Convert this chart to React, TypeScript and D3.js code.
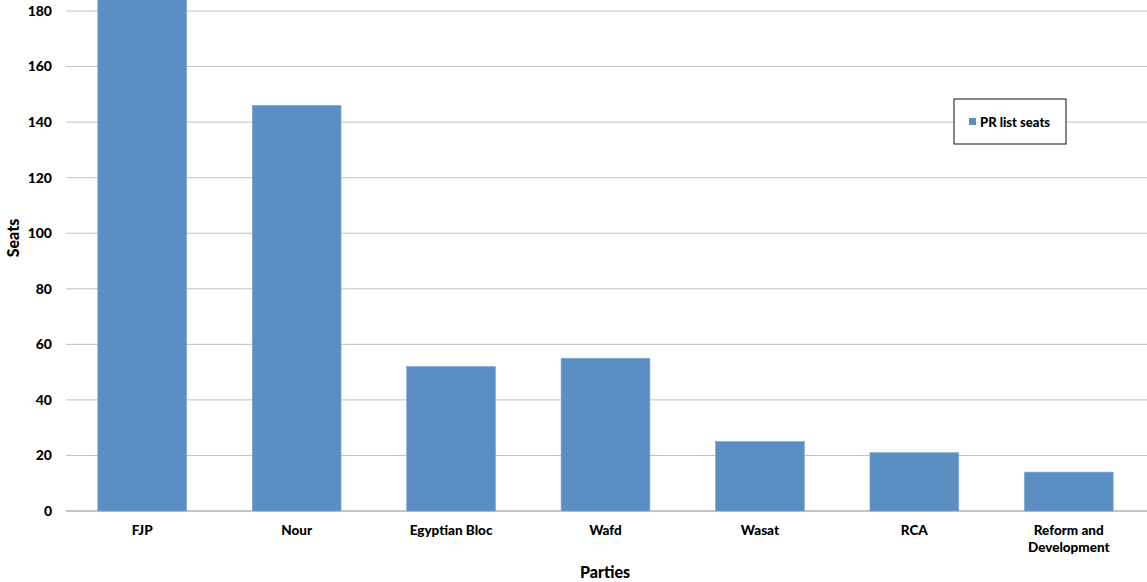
import React from "react";
import * as d3 from "d3";

const categories = ["FJP", "Nour", "Egyptian Bloc", "Wafd", "Wasat", "RCA", "Reform and Development"];
const seats = [213, 146, 52, 55, 25, 21, 14];
const yTicks = [0, 20, 40, 60, 80, 100, 120, 140, 160, 180];
const seriesName = "PR list seats";

const W = 1147, H = 582;
const FONT = "Lato, 'Open Sans', sans-serif";
const BAR = "#5b8fc4";

export default function App() {
  const x = d3.scaleBand<string>().domain(categories).range([65, 1146]).paddingInner(0.425).paddingOuter(0.2125);
  const y = d3.scaleLinear().domain([0, 180]).range([511, 11]);
  const labelLines = (c: string) => (c === "Reform and Development" ? ["Reform and", "Development"] : [c]);
  return (
    <svg width={W} height={H} style={{ position: "absolute", left: 0, top: 0, background: "#fff" }}>
      {yTicks.map((t) => (
        <g key={t}>
          <line x1={66} x2={W} y1={y(t)} y2={y(t)} stroke={t === 0 ? "#b0b0b0" : "#c0c0c0"} strokeWidth={t === 0 ? 1.5 : 1} />
          <text x={52} y={y(t)} dy="0.35em" textAnchor="end" fontFamily={FONT} fontWeight="900" fontSize={14} fill="#000">{t}</text>
        </g>
      ))}
      {categories.map((c, i) => (
        <rect key={c} x={x(c)!} width={x.bandwidth()} y={y(seats[i])} height={y(0) - y(seats[i])} fill={BAR} stroke="#7aa6d3" strokeWidth={0.6} />
      ))}
      {categories.map((c) => (
        <text key={c} x={x(c)! + x.bandwidth() / 2} y={535} textAnchor="middle" fontFamily={FONT} fontWeight="900" fontSize={13.5} fill="#000">
          {labelLines(c).map((l, j) => (
            <tspan key={j} x={x(c)! + x.bandwidth() / 2} dy={j === 0 ? 0 : 17}>{l}</tspan>
          ))}
        </text>
      ))}
      <text transform={`translate(19,238) rotate(-90)`} textAnchor="middle" fontFamily={FONT} fontWeight="900" fontSize={16} fill="#000">Seats</text>
      <text x={605} y={578} textAnchor="middle" fontFamily={FONT} fontWeight="900" fontSize={16} fill="#000">Parties</text>
      <g>
        <rect x={954} y={99} width={112} height={45} fill="#fff" stroke="#111" strokeWidth={1} />
        <rect x={969} y={118} width={7} height={7} fill={BAR} />
        <text x={980} y={122} dy="0.35em" fontFamily={FONT} fontWeight="900" fontSize={13} fill="#000">{seriesName}</text>
      </g>
    </svg>
  );
}
